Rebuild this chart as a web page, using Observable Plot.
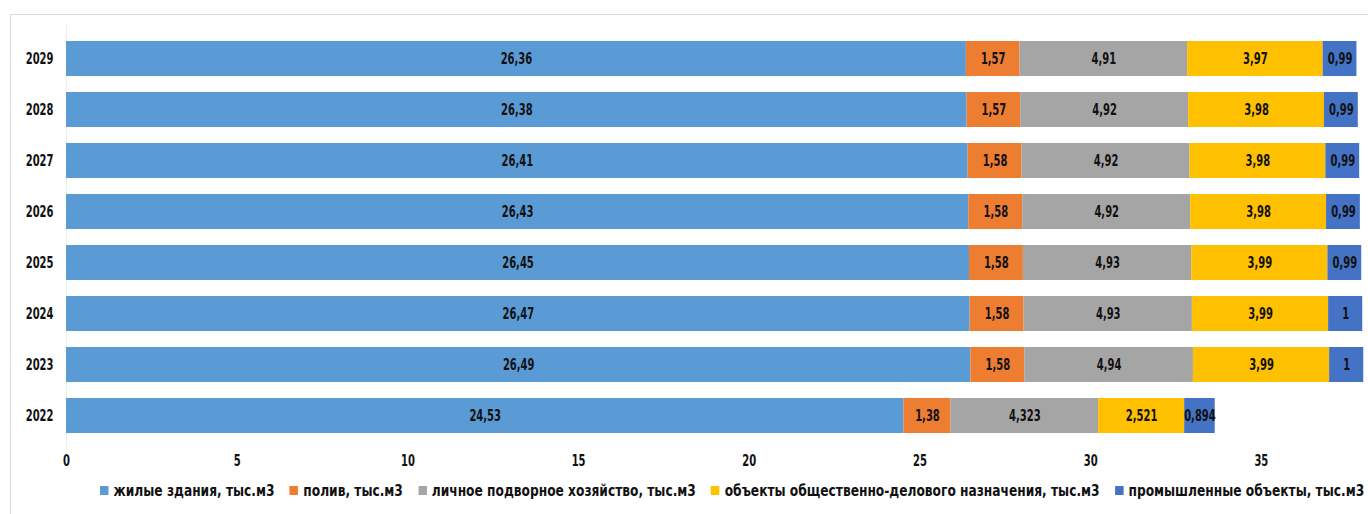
<!DOCTYPE html>
<html>
<head>
<meta charset="utf-8">
<script src="https://cdn.jsdelivr.net/npm/d3@7"></script>
<script src="https://cdn.jsdelivr.net/npm/@observablehq/plot@0.6"></script>
<style>
  html, body { margin: 0; padding: 0; background: #fff; width: 1368px; height: 514px; overflow: hidden; }
  #frame { position: absolute; left: 10px; top: 14px; width: 1400px; height: 600px; border-top: 1px solid #d9d9d9; border-left: 1px solid #d9d9d9; }
  #chart { position: absolute; left: 0; top: 0; }
  #legend { position: absolute; left: 100px; top: 481px; display: flex; gap: 18px; white-space: nowrap; transform-origin: 0 50%;
    font-family: "DejaVu Sans Condensed", "DejaVu Sans", sans-serif; font-stretch: condensed; font-weight: bold; font-size: 16px; color: #111; }
  #legend .item { display: flex; align-items: center; gap: 6px; }
  #legend .sw { width: 10px; height: 9px; display: inline-block; }
</style>
</head>
<body>
<div id="frame"></div>
<div id="chart"></div>
<div id="legend"></div>
<script>
const years = ["2029", "2028", "2027", "2026", "2025", "2024", "2023", "2022"];
const seriesNames = [
  "жилые здания, тыс.м3",
  "полив, тыс.м3",
  "личное подворное хозяйство, тыс.м3",
  "объекты общественно-делового назначения, тыс.м3",
  "промышленные объекты, тыс.м3"
];
const colors = ["#5b9bd5", "#ed7d31", "#a5a5a5", "#ffc000", "#4472c4"];
const residential = [26.36, 26.38, 26.41, 26.43, 26.45, 26.47, 26.49, 24.53];
const irrigation  = [1.57, 1.57, 1.58, 1.58, 1.58, 1.58, 1.58, 1.38];
const household   = [4.91, 4.92, 4.92, 4.92, 4.93, 4.93, 4.94, 4.323];
const publicObj   = [3.97, 3.98, 3.98, 3.98, 3.99, 3.99, 3.99, 2.521];
const industrial  = [0.99, 0.99, 0.99, 0.99, 0.99, 1, 1, 0.894];
const xTicks = [0, 5, 10, 15, 20, 25, 30, 35];

const seriesValues = [residential, irrigation, household, publicObj, industrial];
const data = [];
years.forEach((y, i) => {
  seriesNames.forEach((s, j) => {
    data.push({ year: y, series: s, value: seriesValues[j][i] });
  });
});
const fmt = v => String(v).replace(".", ",");
const font = '"DejaVu Sans Condensed", "DejaVu Sans", sans-serif';

const plot = Plot.plot({
  width: 1368,
  height: 475,
  marginLeft: 66,
  marginRight: 2,
  marginTop: 24.3,
  marginBottom: 25.4,
  style: { fontFamily: font, fontWeight: "bold", fontSize: "15px", color: "#111", background: "transparent", overflow: "visible" },
  x: { domain: [0, 38.08], ticks: xTicks, tickSize: 0, tickPadding: 5, label: null, tickFormat: d => String(d) },
  y: { domain: years, padding: 0.316, tickSize: 0, tickPadding: 13, label: null },
  color: { domain: seriesNames, range: colors },
  marks: [
    Plot.ruleX([0], { stroke: "#eeeeee" }),
    Plot.barX(data, { x: "value", y: "year", fill: "series", z: "series", order: seriesNames }),
    Plot.textX(data, Plot.stackX({ x: "value", y: "year", z: "series", order: seriesNames, text: d => fmt(d.value), fill: "#111", fontSize: 15, fontWeight: "bold" }))
  ]
});
document.getElementById("chart").appendChild(plot);

// condense all chart texts horizontally (reference uses a narrow heavy face)
plot.querySelectorAll("text").forEach(t => {
  const L = t.getComputedTextLength();
  if (L > 0) {
    t.setAttribute("textLength", (L * 0.74).toFixed(2));
    t.setAttribute("lengthAdjust", "spacingAndGlyphs");
  }
});

const legend = document.getElementById("legend");
seriesNames.forEach((s, i) => {
  const it = document.createElement("span");
  it.className = "item";
  const sw = document.createElement("span");
  sw.className = "sw";
  sw.style.background = colors[i];
  const t = document.createElement("span");
  t.textContent = s;
  it.appendChild(sw); it.appendChild(t);
  legend.appendChild(it);
});
const w = legend.scrollWidth;
legend.style.transform = `scaleX(${1264 / w})`;
</script>
</body>
</html>
